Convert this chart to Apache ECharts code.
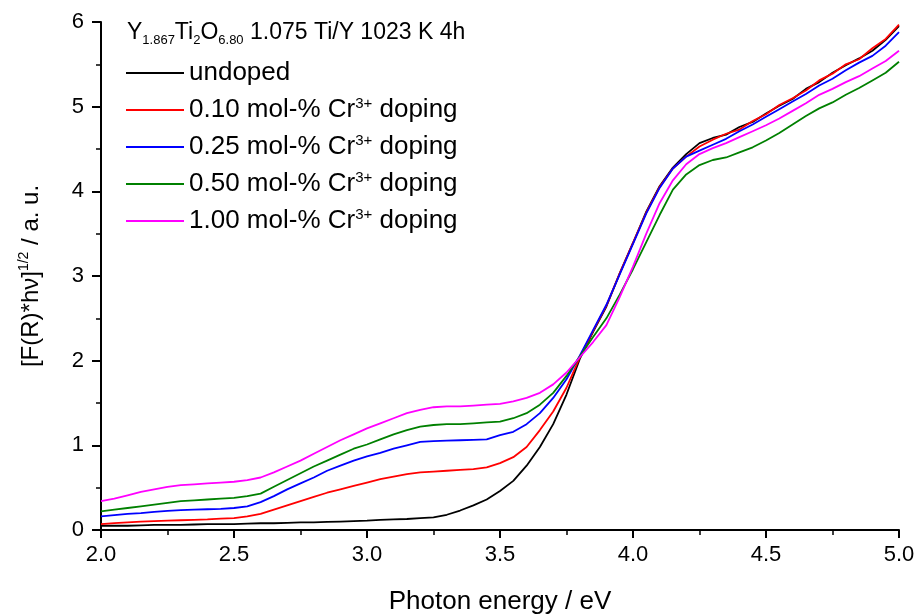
<!DOCTYPE html>
<html>
<head>
<meta charset="utf-8">
<script src="https://cdn.jsdelivr.net/npm/echarts@6/dist/echarts.min.js"></script>
<style>
  html, body { margin: 0; padding: 0; background: #fff; }
  #chart { width: 918px; height: 614px; }
</style>
</head>
<body>
<div id="chart"></div>
<script>
// Photon energies (eV) shared by every spectrum
const energies = [
  2.00, 2.05, 2.10, 2.15, 2.20, 2.25, 2.30, 2.35, 2.40, 2.45,
  2.50, 2.55, 2.60, 2.65, 2.70, 2.75, 2.80, 2.85, 2.90, 2.95,
  3.00, 3.05, 3.10, 3.15, 3.20, 3.25, 3.30, 3.35, 3.40, 3.45,
  3.50, 3.55, 3.60, 3.65, 3.70, 3.75, 3.80, 3.85, 3.90, 3.95,
  4.00, 4.05, 4.10, 4.15, 4.20, 4.25, 4.30, 4.35, 4.40, 4.45,
  4.50, 4.55, 4.60, 4.65, 4.70, 4.75, 4.80, 4.85, 4.90, 4.95, 5.00
];

// Kubelka-Munk function [F(R)*hv]^(1/2) for each sample
const undoped = [
  0.05, 0.05, 0.05, 0.055, 0.06, 0.06, 0.06, 0.065, 0.07, 0.07,
  0.07, 0.075, 0.08, 0.08, 0.085, 0.09, 0.09, 0.095, 0.10, 0.105,
  0.11, 0.12, 0.125, 0.13, 0.14, 0.15, 0.18, 0.23, 0.29, 0.36,
  0.46, 0.58, 0.76, 0.98, 1.25, 1.60, 2.02, 2.34, 2.64, 3.03,
  3.39, 3.76, 4.06, 4.28, 4.44, 4.57, 4.63, 4.67, 4.76, 4.82,
  4.92, 5.01, 5.09, 5.21, 5.29, 5.40, 5.49, 5.57, 5.66, 5.79, 5.95
];
const cr010 = [
  0.07, 0.08, 0.09, 0.10, 0.105, 0.11, 0.115, 0.12, 0.125, 0.135,
  0.14, 0.16, 0.19, 0.24, 0.29, 0.34, 0.39, 0.44, 0.48, 0.52,
  0.56, 0.60, 0.63, 0.66, 0.68, 0.69, 0.70, 0.71, 0.72, 0.74,
  0.79, 0.86, 0.98, 1.18, 1.40, 1.68, 2.04, 2.35, 2.65, 3.03,
  3.39, 3.75, 4.05, 4.27, 4.41, 4.53, 4.61, 4.68, 4.73, 4.83,
  4.91, 5.02, 5.10, 5.19, 5.31, 5.39, 5.50, 5.56, 5.69, 5.80, 5.97
];
const cr025 = [
  0.16, 0.175, 0.19, 0.20, 0.215, 0.225, 0.235, 0.24, 0.245, 0.25,
  0.26, 0.28, 0.33, 0.40, 0.48, 0.55, 0.62, 0.70, 0.76, 0.82,
  0.87, 0.91, 0.96, 1.00, 1.04, 1.05, 1.055, 1.06, 1.065, 1.07,
  1.12, 1.16, 1.25, 1.38, 1.56, 1.78, 2.06, 2.36, 2.66, 3.02,
  3.38, 3.74, 4.04, 4.27, 4.41, 4.48, 4.55, 4.62, 4.71, 4.79,
  4.88, 4.97, 5.06, 5.15, 5.25, 5.33, 5.43, 5.52, 5.60, 5.72, 5.88
];
const cr050 = [
  0.22, 0.24, 0.26, 0.28, 0.30, 0.32, 0.34, 0.35, 0.36, 0.37,
  0.38, 0.40, 0.43, 0.51, 0.59, 0.67, 0.75, 0.82, 0.89, 0.96,
  1.01, 1.07, 1.13, 1.18, 1.22, 1.24, 1.25, 1.25, 1.26, 1.27,
  1.28, 1.32, 1.38, 1.48, 1.62, 1.82, 2.05, 2.28, 2.50, 2.78,
  3.08, 3.40, 3.72, 4.02, 4.20, 4.31, 4.37, 4.40, 4.46, 4.52,
  4.60, 4.69, 4.79, 4.89, 4.98, 5.05, 5.14, 5.22, 5.31, 5.40, 5.53
];
const cr100 = [
  0.34, 0.37, 0.41, 0.45, 0.48, 0.51, 0.53, 0.54, 0.55, 0.56,
  0.57, 0.59, 0.62, 0.68, 0.75, 0.82, 0.90, 0.98, 1.06, 1.13,
  1.20, 1.26, 1.32, 1.38, 1.42, 1.45, 1.46, 1.46, 1.47, 1.48,
  1.49, 1.52, 1.56, 1.62, 1.72, 1.86, 2.04, 2.22, 2.42, 2.75,
  3.11, 3.50, 3.86, 4.13, 4.32, 4.44, 4.51, 4.57, 4.64, 4.71,
  4.78, 4.86, 4.95, 5.04, 5.14, 5.21, 5.29, 5.36, 5.45, 5.54, 5.66
];

const seriesNames = [
  'undoped',
  '0.10 mol-% Cr3+ doping',
  '0.25 mol-% Cr3+ doping',
  '0.50 mol-% Cr3+ doping',
  '1.00 mol-% Cr3+ doping'
];
const seriesValues = [undoped, cr010, cr025, cr050, cr100];
const seriesColors = ['#000000', '#ff0000', '#0000ff', '#008000', '#ff00ff'];

const xTicks = { min: 2, max: 5, step: 0.5 };
const yTicks = { min: 0, max: 6, step: 1 };

const FONT = '"Liberation Sans", Arial, sans-serif';

const chart = echarts.init(document.getElementById('chart'), null, { renderer: 'canvas' });

chart.setOption({
  backgroundColor: '#ffffff',
  animation: false,
  textStyle: { fontFamily: FONT, color: '#000' },
  title: {
    left: 127,
    top: 19,
    padding: 0,
    text: '{m|Y}{s|1.867}{m|Ti}{s|2}{m|O}{s|6.80}{m| 1.075 Ti/Y 1023 K 4h}',
    textStyle: {
      fontWeight: 'normal',
      rich: {
        m: { fontFamily: FONT, fontSize: 23, fontWeight: 'normal', lineHeight: 28, color: '#000' },
        s: { fontFamily: FONT, fontSize: 13, fontWeight: 'normal', lineHeight: 8, verticalAlign: 'bottom', color: '#000' }
      }
    }
  },
  legend: {
    orient: 'vertical',
    left: 126,
    top: 59,
    padding: 0,
    itemGap: 9,
    itemWidth: 58,
    itemHeight: 2,
    icon: 'rect',
    data: seriesNames,
    formatter: (name) => name.replace('3+', '{sup|3+}'),
    textStyle: {
      fontFamily: FONT,
      fontSize: 26,
      lineHeight: 28,
      color: '#000',
      rich: {
        sup: { fontFamily: FONT, fontSize: 15, lineHeight: 12, verticalAlign: 'top', color: '#000' }
      }
    }
  },
  grid: { left: 101, right: 19, top: 22, bottom: 84, containLabel: false, outerBoundsMode: 'none' },
  xAxis: {
    type: 'value',
    min: xTicks.min,
    max: xTicks.max,
    interval: xTicks.step,
    name: 'Photon energy / eV',
    nameLocation: 'middle',
    nameGap: 59,
    nameTextStyle: { fontFamily: FONT, fontSize: 26, color: '#000' },
    axisLine: { show: true, onZero: false, lineStyle: { color: '#000', width: 2 } },
    axisTick: { show: true, inside: false, length: 8, lineStyle: { color: '#000', width: 2 } },
    minorTick: { show: true, splitNumber: 2, length: 5, lineStyle: { color: '#000', width: 1.5 } },
    axisLabel: { fontFamily: FONT, fontSize: 22, color: '#000', margin: 14, formatter: (v) => v.toFixed(1) },
    splitLine: { show: false }
  },
  yAxis: {
    type: 'value',
    min: yTicks.min,
    max: yTicks.max,
    interval: yTicks.step,
    name: '[F(R)*hν]{sup|1/2} / a. u.',
    nameLocation: 'middle',
    nameGap: 56,
    nameTextStyle: {
      fontFamily: FONT, fontSize: 24, color: '#000', lineHeight: 28,
      rich: { sup: { fontFamily: FONT, fontSize: 14, lineHeight: 12, verticalAlign: 'top', color: '#000' } }
    },
    axisLine: { show: true, onZero: false, lineStyle: { color: '#000', width: 2 } },
    axisTick: { show: true, inside: false, length: 9, lineStyle: { color: '#000', width: 2 } },
    minorTick: { show: true, splitNumber: 2, length: 5, lineStyle: { color: '#000', width: 1.5 } },
    axisLabel: { fontFamily: FONT, fontSize: 22, color: '#000', margin: 17 },
    splitLine: { show: false }
  },
  series: seriesNames.map((name, i) => ({
    name,
    type: 'line',
    showSymbol: false,
    smooth: false,
    color: seriesColors[i],
    lineStyle: { width: 1.8, color: seriesColors[i] },
    data: energies.map((e, j) => [e, seriesValues[i][j]])
  }))
});
</script>
</body>
</html>
